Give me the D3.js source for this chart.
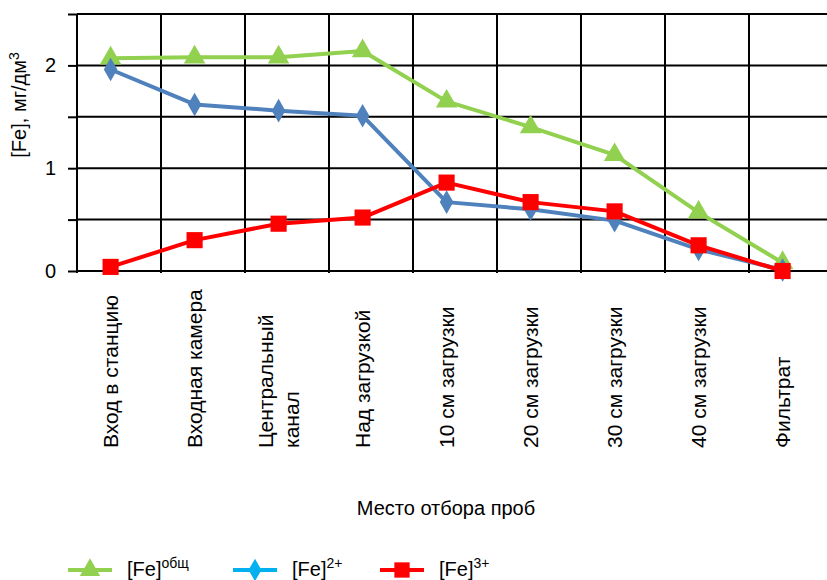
<!DOCTYPE html>
<html>
<head>
<meta charset="utf-8">
<script src="https://cdn.jsdelivr.net/npm/d3@7/dist/d3.min.js"></script>
<style>
    body { margin: 0; background: #fff; }
    text { font-family: "Liberation Sans", Arial, sans-serif; fill: #000; }
</style>
</head>
<body>
<div id="chart"></div>
<script>
// sampling points (x categories)
const categories = [
    ["Вход в станцию"],
    ["Входная камера"],
    ["Центральный", "канал"],
    ["Над загрузкой"],
    ["10 см загрузки"],
    ["20 см загрузки"],
    ["30 см загрузки"],
    ["40 см загрузки"],
    ["Фильтрат"]
];
// iron concentrations, mg/dm3
const feTotal = [2.07, 2.08, 2.08, 2.14, 1.65, 1.40, 1.13, 0.57, 0.08];
const fe2 = [1.96, 1.62, 1.56, 1.51, 0.67, 0.60, 0.49, 0.21, 0.01];
const fe3 = [0.04, 0.30, 0.46, 0.52, 0.86, 0.67, 0.58, 0.25, 0.00];
const yTicks = [0, 0.5, 1, 1.5, 2, 2.5];

const series = [
    { name: "общ", values: feTotal, color: "#92D050", legendColor: "#92D050", marker: d3.symbolTriangle, size: 200 },
    { name: "2+", values: fe2, color: "#4F81BD", legendColor: "#00B0F0", marker: d3.symbolDiamond, size: 160 },
    { name: "3+", values: fe3, color: "#FF0000", legendColor: "#FF0000", marker: d3.symbolSquare, size: 260 }
];

let width = 827, height = 580;
let margin = { top: 14, left: 77, bottom: 271 };

let svg = d3.select("#chart")
    .append("svg")
    .attr("width", width)
    .attr("height", height);

let keys = categories.map(function (d) { return d.join(" "); });
let x = d3.scaleBand()
    .domain(keys)
    .range([margin.left, margin.left + 9 * 84]);
let px = function (i) { return x(keys[i]) + x.bandwidth() * 0.4; };

let y = d3.scaleLinear()
    .domain([0, 2.5])
    .range([margin.bottom, margin.top]);

// horizontal grid + y axis
svg.append("g")
    .attr("transform", "translate(" + margin.left + ",0)")
    .call(d3.axisLeft(y)
        .tickValues(yTicks)
        .tickSize(9)
        .tickPadding(12)
        .tickFormat(function (d) { return Number.isInteger(d) ? d : ""; }))
    .call(g => g.select(".domain").remove())
    .call(g => g.selectAll("line").attr("stroke", "#000").attr("stroke-width", 2))
    .call(g => g.selectAll("text").style("font-size", "20px").attr("fill", "#000"));

svg.append("g")
    .selectAll("line")
    .data(yTicks)
    .enter()
    .append("line")
    .attr("x1", margin.left)
    .attr("x2", width)
    .attr("y1", function (d) { return y(d); })
    .attr("y2", function (d) { return y(d); })
    .attr("stroke", "#000")
    .attr("stroke-width", 2);

// vertical grid
svg.append("g")
    .selectAll("line")
    .data(keys)
    .enter()
    .append("line")
    .attr("x1", function (d) { return x(d); })
    .attr("x2", function (d) { return x(d); })
    .attr("y1", y(2.5))
    .attr("y2", y(0) + 2)
    .attr("stroke", "#000")
    .attr("stroke-width", 2);

// category labels
let labels = svg.append("g")
    .selectAll("text")
    .data(categories)
    .enter()
    .append("text")
    .attr("transform", function (d, i) { return "translate(" + px(i) + ",448)rotate(-90)"; })
    .attr("text-anchor", "start")
    .style("font-size", "21px");
labels.each(function (d) {
    let t = d3.select(this);
    d.forEach(function (line, j) {
        t.append("tspan")
            .attr("x", 0)
            .attr("y", 7 + (j - (d.length - 1) / 2) * 26)
            .text(line);
    });
});

// axis titles
svg.append("text")
    .attr("x", 446)
    .attr("y", 515)
    .attr("text-anchor", "middle")
    .style("font-size", "20px")
    .text("Место отбора проб");

let yl = svg.append("text")
    .attr("transform", "translate(26,105)rotate(-90)")
    .attr("text-anchor", "middle")
    .style("font-size", "20px");
yl.append("tspan").text("[Fe], мг/дм");
yl.append("tspan").attr("dy", "-0.5em").style("font-size", "14px").text("3");

// series lines and markers
let line = d3.line()
    .x(function (d, i) { return px(i); })
    .y(function (d) { return y(d); });

series.forEach(function (s) {
    svg.append("path")
        .datum(s.values)
        .attr("d", line)
        .attr("fill", "none")
        .attr("stroke", s.color)
        .attr("stroke-width", 4)
        .attr("stroke-linejoin", "round");
    svg.append("g")
        .selectAll("path")
        .data(s.values)
        .enter()
        .append("path")
        .attr("d", d3.symbol().type(s.marker).size(s.size))
        .attr("transform", function (d, i) { return "translate(" + px(i) + "," + y(d) + ")"; })
        .attr("fill", s.color);
});

// legend
let legendX = [68, 233, 380];
let legend = svg.append("g")
    .selectAll("g")
    .data(series)
    .enter()
    .append("g")
    .attr("transform", function (d, i) { return "translate(" + legendX[i] + ",570)"; });
legend.append("line")
    .attr("x1", 0)
    .attr("x2", 44)
    .attr("stroke", function (d) { return d.legendColor; })
    .attr("stroke-width", 4);
legend.append("path")
    .attr("d", function (d) { return d3.symbol().type(d.marker).size(d.size * 0.9)(); })
    .attr("transform", "translate(22,0)")
    .attr("fill", function (d) { return d.legendColor; });
let lt = legend.append("text")
    .attr("x", 59)
    .attr("y", 6)
    .style("font-size", "20px");
lt.append("tspan").text("[Fe]");
lt.append("tspan").attr("dy", "-0.6em").style("font-size", "14px").text(function (d) { return d.name; });
</script>
</body>
</html>
